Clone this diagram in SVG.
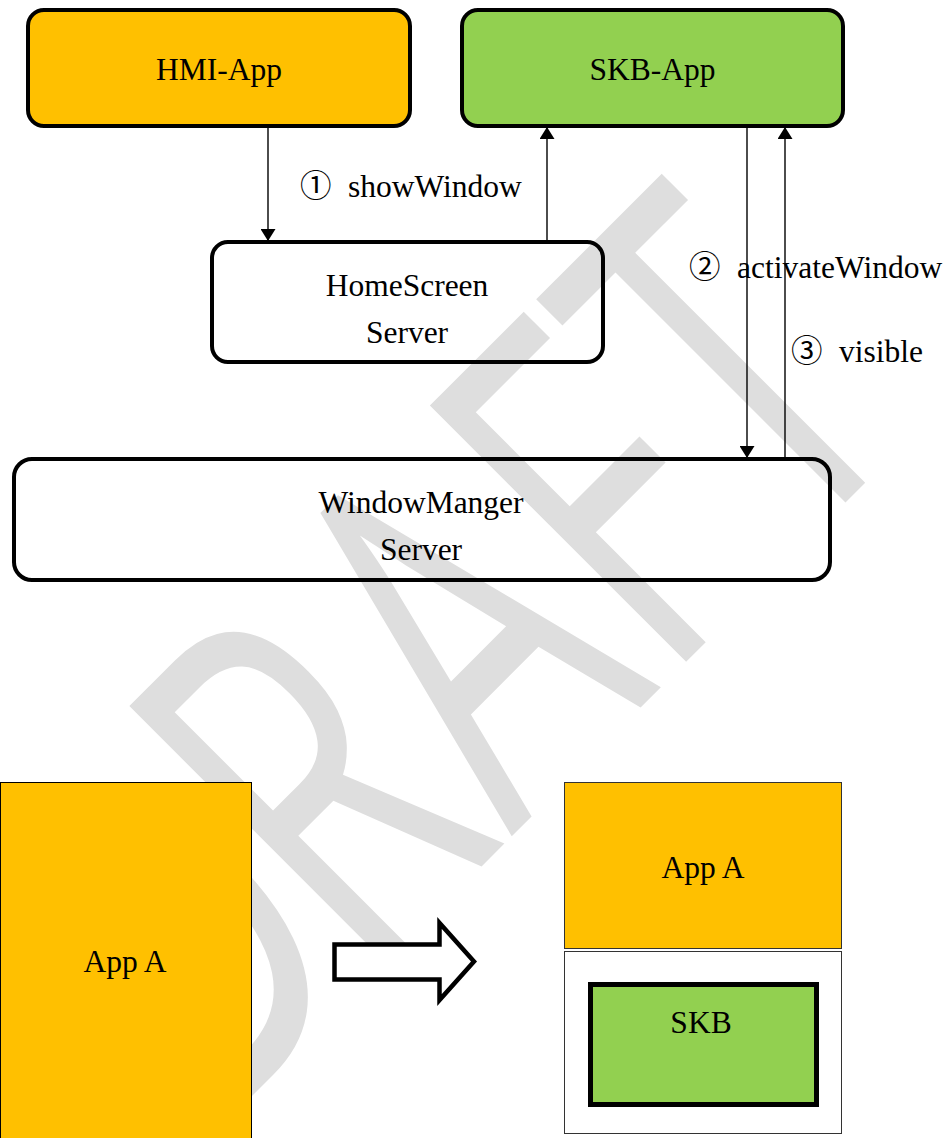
<svg xmlns="http://www.w3.org/2000/svg" width="948" height="1138" viewBox="0 0 948 1138">
<style>
.t{font-family:"Liberation Serif","Noto Sans CJK SC",serif;font-size:31.5px;fill:#000}
.c{text-anchor:middle}
.box{fill:none;stroke:#000;stroke-width:4}
.or{fill:#FFC000}
.gr{fill:#92D050}
.ln{stroke:#000;stroke-width:1.4;fill:none}
.wm{font-family:"Open Sans","Noto Sans",sans-serif;font-size:334px;fill:#dedede}
</style>
<defs>
<marker id="ah" viewBox="0 0 12 15" refX="12" refY="7.5" markerWidth="12" markerHeight="15" markerUnits="userSpaceOnUse" orient="auto">
<path d="M0,0 L12,7.5 L0,15 Z" fill="#000"/>
</marker>
</defs>
<g id="watermark">
<text class="wm" transform="translate(396.5,951.5) rotate(-45) scale(1,1.52)" x="-271 -48 163 377 557" y="0">DRAFT</text>
</g>
<g id="hmi-app">
<rect class="box or" x="28" y="10" width="382" height="116" rx="16"/>
<text class="t c" x="219" y="80">HMI-App</text>
</g>
<g id="skb-app">
<rect class="box gr" x="462" y="10" width="381" height="116" rx="16"/>
<text class="t c" x="652.5" y="80">SKB-App</text>
</g>
<g id="homescreen-server">
<rect class="box" x="212" y="242" width="391" height="120" rx="16"/>
<text class="t c" x="407" y="296">HomeScreen</text>
<text class="t c" x="407" y="343">Server</text>
</g>
<g id="windowmanager-server">
<rect class="box" x="14" y="459" width="816" height="121" rx="18"/>
<text class="t c" x="421" y="513">WindowManger</text>
<text class="t c" x="421" y="560">Server</text>
</g>
<g id="connectors">
<line class="ln" x1="268" y1="128" x2="268" y2="241" marker-end="url(#ah)"/>
<line class="ln" x1="547" y1="240" x2="547" y2="127" marker-end="url(#ah)"/>
<line class="ln" x1="747" y1="128" x2="747" y2="458" marker-end="url(#ah)"/>
<line class="ln" x1="785" y1="457" x2="785" y2="127" marker-end="url(#ah)"/>
<text class="t"><tspan x="300" y="197">①</tspan><tspan x="348" y="197">showWindow</tspan></text>
<text class="t"><tspan x="689" y="278">②</tspan><tspan x="737" y="278">activateWindow</tspan></text>
<text class="t"><tspan x="791" y="362">③</tspan><tspan x="839" y="362">visible</tspan></text>
</g>
<g id="before-app-a">
<rect x="0.5" y="782.5" width="251" height="360" fill="#FFC000" stroke="#000" stroke-width="1"/>
<text class="t c" x="125" y="972">App A</text>
</g>
<g id="transition-arrow">
<polygon points="334.5,944.5 439.5,944.5 439.5,923 474,961.5 439.5,1000 439.5,979.5 334.5,979.5" fill="#fff" stroke="#000" stroke-width="4.5"/>
</g>
<g id="after-app-a">
<rect x="564.5" y="782.5" width="277" height="166" fill="#FFC000" stroke="#333" stroke-width="1"/>
<text class="t c" x="703" y="878">App A</text>
</g>
<g id="after-skb-area">
<rect x="564.5" y="951.5" width="277" height="182" fill="#fff" stroke="#333" stroke-width="1"/>
<rect x="590.5" y="984.5" width="226" height="120" fill="#92D050" stroke="#000" stroke-width="5"/>
<text class="t c" x="701" y="1033">SKB</text>
</g>
</svg>
